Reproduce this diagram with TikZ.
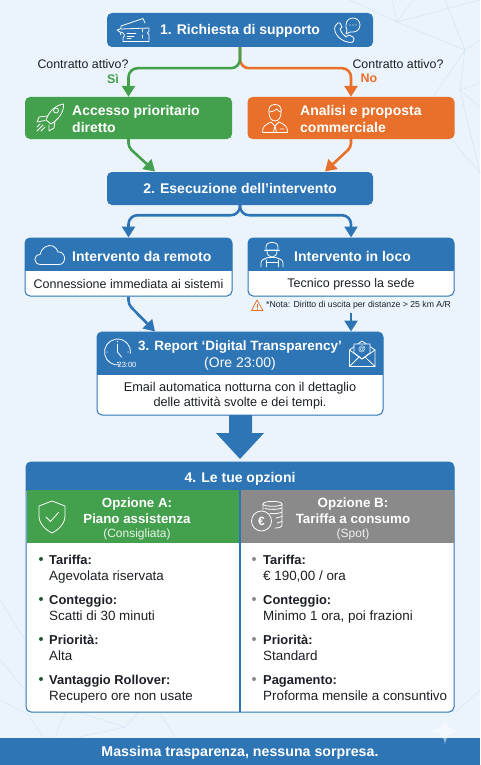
\documentclass[tikz,border=0pt]{standalone}
\usepackage{fontspec}
\setmainfont{Liberation Sans}
\usetikzlibrary{arrows.meta,positioning,calc}
\definecolor{PageBlue}{RGB}{235,244,251}
\definecolor{LineBlue}{RGB}{212,229,243}
\definecolor{MainBlue}{RGB}{46,117,182}
\definecolor{MainGreen}{RGB}{67,160,77}
\definecolor{MainOrange}{RGB}{232,112,42}
\definecolor{MainGray}{RGB}{138,138,138}
\definecolor{TextDark}{RGB}{28,32,38}
\tikzset{
  bgline/.style={draw=LineBlue,line width=0.5pt},
  stepbox/.style={fill=MainBlue,rounded corners=5pt,minimum width=266pt,minimum height=34pt,
    text=white,font=\fontsize{14}{17}\selectfont\bfseries,inner sep=0pt,text height=10pt,text depth=0pt},
  choicebox/.style={rounded corners=5pt,minimum width=207pt,minimum height=42pt,inner sep=0pt},
  cardbox/.style={draw=MainBlue,line width=1pt,fill=white,rounded corners=5pt,inner sep=0pt},
  headtext/.style={text=white,font=\fontsize{14}{17}\selectfont\bfseries,inner sep=0pt,align=left},
  bodytext/.style={text=TextDark,font=\fontsize{12.5}{15}\selectfont,inner sep=0pt,align=center},
  asktext/.style={text=TextDark,font=\fontsize{12.4}{14}\selectfont,inner sep=0pt},
  itemtext/.style={anchor=west,text=TextDark,font=\fontsize{13.4}{16}\selectfont,inner sep=0pt,align=left,
    text height=22pt,text depth=4pt},
  bullet/.style={circle,inner sep=0pt,minimum size=4pt},
  icon/.style={draw=white,line width=0.8pt,line join=round,line cap=round},
  greenarrow/.style={draw=MainGreen,line width=2.6pt,-{Triangle[width=13pt,length=11pt]}},
  orangearrow/.style={draw=MainOrange,line width=2.6pt,-{Triangle[width=13pt,length=11pt]}},
  bluearrow/.style={draw=MainBlue,line width=2.6pt,-{Triangle[width=13pt,length=11pt]}}
}
\newcommand{\itemhead}[1]{{\fontsize{12.9}{16}\selectfont\bfseries #1}}
\newcommand{\headband}[5]{% x1,y1,x2,y2,colour
  \begin{scope}
    \clip (#1,#2) rectangle (#3,#4);
    \fill[#5,rounded corners=5pt] (#1,#2) rectangle (#3,#4+10);
  \end{scope}}
\begin{document}
\begin{tikzpicture}[x=1pt,y=-1pt]
  \useasboundingbox (0,0) rectangle (480,765);
  \fill[PageBlue] (0,0) rectangle (480,765);
  % background lines
  \draw[bgline] (350,0) -- (397,22) -- (465,50) -- (445,0);
  \draw[bgline] (392,0) -- (397,22) -- (413,0);
  \draw[bgline] (397,22) -- (480,0);
  \draw[bgline] (433,97) -- (465,50) -- (480,40);
  \draw[bgline] (465,50) -- (460,90) -- (480,83);
  \draw[bgline] (480,107) -- (460,90) -- (480,173);
  \draw[bgline] (452,140) -- (480,173);
  \draw[bgline] (0,600) -- (25,640);
  \draw[bgline] (0,660) -- (25,690);
  \draw[bgline] (0,700) -- (25,713);
  \draw[bgline] (27,713) -- (43,737);
  \draw[bgline] (65,713) -- (55,737);
  \draw[bgline] (80,713) -- (125,727) -- (138,713);
  \draw[bgline] (125,727) -- (80,737);
  \draw[bgline] (160,713) -- (175,737);
  \draw[bgline] (456,712) -- (480,690);

  % main steps
  \node[stepbox] (req) at (240,30) {1. Richiesta di supporto};
  \node[choicebox,fill=MainGreen] (acc) at (128.5,118) {};
  \node[choicebox,fill=MainOrange] (ana) at (351,118) {};
  \node[stepbox,minimum height=33pt] (exe) at (240,188.5) {2. Esecuzione dell'intervento};
  \node[headtext,anchor=west] (acctxt) at (72,118.5) {Accesso prioritario\\diretto};
  \node[headtext,anchor=west] (anatxt) at (300,118.5) {Analisi e proposta\\commerciale};
  \node[asktext] (askl) at (83,64) {Contratto attivo?};
  \node[asktext] (askr) at (398,64) {Contratto attivo?};
  \node[text=MainGreen,font=\fontsize{12.5}{14}\selectfont\bfseries,inner sep=0pt] (si) at (113,78.5) {Sì};
  \node[text=MainOrange,font=\fontsize{12.5}{14}\selectfont\bfseries,inner sep=0pt] (no) at (369,78.5) {No};

  % remote and on-site cards
  \node[cardbox,minimum width=207pt,minimum height=58pt] (rem) at (128.5,267) {};
  \headband{25}{238}{232}{270}{MainBlue}
  \node[cardbox,minimum width=206pt,minimum height=58pt] (loc) at (351,267) {};
  \headband{248}{238}{454}{270}{MainBlue}
  \node[headtext,anchor=west] (remtxt) at (72,256) {Intervento da remoto};
  \node[headtext,anchor=west] (loctxt) at (294,256) {Intervento in loco};
  \node[bodytext] (rembody) at (128.5,284) {Connessione immediata ai sistemi};
  \node[bodytext] (locbody) at (351,284) {Tecnico presso la sede};
  \node[anchor=west,text=TextDark,font=\fontsize{8.7}{10}\selectfont,inner sep=0pt] (note) at (266,305.5) {*Nota: Diritto di uscita per distanze > 25 km A/R};
  \coordinate (notebot) at (351,313);
  \draw[MainOrange,line width=0.8pt,line join=round] (257,300) -- (263,310.5) -- (251.5,310.5) -- cycle;
  \draw[MainOrange,line width=0.8pt] (257,303.5) -- (257,307.5) (257,308.6) -- (257,309.3);

  % report card
  \node[cardbox,minimum width=286pt,minimum height=83pt] (rep) at (240,373.5) {};
  \headband{97}{332}{383}{374}{MainBlue}
  \node[headtext,font=\fontsize{13.5}{17}\selectfont\bfseries] (reptxt) at (240,347.5) {3. Report ‘Digital Transparency’};
  \node[text=white,font=\fontsize{14}{16}\selectfont,inner sep=0pt] (reptime) at (240,363.5) {(Ore 23:00)};
  \node[bodytext,font=\fontsize{12.7}{15}\selectfont] (repbody) at (240,396) {Email automatica notturna con il dettaglio\\delle attività svolte e dei tempi.};

  % options panel
  \node[cardbox,minimum width=428pt,minimum height=250pt] (opt) at (240,587) {};
  \headband{26}{462}{454}{490}{MainBlue}
  \fill[MainGreen] (26.5,490) rectangle (240,543);
  \fill[MainGray] (240,490) rectangle (453.5,543);
  \draw[MainBlue,line width=1.2pt] (240,490) -- (240,712);
  \node[headtext] (opttxt) at (240,478.5) {4. Le tue opzioni};
  \node[headtext,align=center,font=\fontsize{13.3}{16}\selectfont\bfseries] (opta) at (137,511) {Opzione A:\\Piano assistenza};
  \node[text=white!88!MainGreen,font=\fontsize{12}{13}\selectfont,inner sep=0pt] (optas) at (137,534.5) {(Consigliata)};
  \node[headtext,align=center,font=\fontsize{13.4}{16}\selectfont\bfseries] (optb) at (353,511) {Opzione B:\\Tariffa a consumo};
  \node[text=white!88!MainGray,font=\fontsize{12}{13}\selectfont,inner sep=0pt] (optbs) at (353,534.5) {(Spot)};

  \node[itemtext] (a1) at (49,571) {\itemhead{Tariffa:}\\Agevolata riservata};
  \node[itemtext] (a2) at (49,611) {\itemhead{Conteggio:}\\Scatti di 30 minuti};
  \node[itemtext] (a3) at (49,651) {\itemhead{Priorità:}\\Alta};
  \node[itemtext] (a4) at (49,691) {\itemhead{Vantaggio Rollover:}\\Recupero ore non usate};
  \node[itemtext] (b1) at (263,571) {\itemhead{Tariffa:}\\€ 190,00 / ora};
  \node[itemtext] (b2) at (263,611) {\itemhead{Conteggio:}\\Minimo 1 ora, poi frazioni};
  \node[itemtext] (b3) at (263,651) {\itemhead{Priorità:}\\Standard};
  \node[itemtext] (b4) at (263,691) {\itemhead{Pagamento:}\\Proforma mensile a consuntivo};
  \foreach \y in {559,599,639,679} {
    \node[bullet,fill=MainGreen!55!black] at (41,\y) {};
    \node[bullet,fill=MainGray] at (254,\y) {};
  }

  % footer
  \fill[MainBlue] (0,738) rectangle (480,765);
  \node[text=white,font=\fontsize{14.2}{16}\selectfont\bfseries,inner sep=0pt] (foot) at (240,752.5) {Massima trasparenza, nessuna sorpresa.};
  \fill[white,opacity=0.5] (445,717) .. controls (446,726) and (449,729) .. (460,731) .. controls (449,733) and (446,736) .. (445,745) .. controls (444,736) and (441,733) .. (430,731) .. controls (441,729) and (444,726) .. (445,717) -- cycle;

  % connectors
  \draw[orangearrow,rounded corners=9pt] (req.south) -- ++(0,21) -| (ana.north);
  \draw[greenarrow,rounded corners=9pt] (req.south) -- ++(0,21) -| (acc.north);
  \coordinate (acctip) at (155,171.5);
  \coordinate (anatip) at (325,171.5);
  \draw[greenarrow,rounded corners=4pt] (acc.south) -- ++(0,8) -- (acctip);
  \draw[orangearrow,rounded corners=4pt] (ana.south) -- ++(0,8) -- (anatip);
  \draw[bluearrow,rounded corners=9pt] (exe.south) -- ++(0,10) -| (rem.north);
  \draw[bluearrow,rounded corners=9pt] (exe.south) -- ++(0,10) -| (loc.north);
  \coordinate (reptip) at (155,331.5);
  \coordinate (reploc) at (351,331.5);
  \draw[bluearrow,rounded corners=4pt] (rem.south) -- ++(0,8) -- (reptip);
  \draw[bluearrow] (notebot) -- (reploc);
  \fill[MainBlue] (229,415) -- (252,415) -- (252,433) -- (264,433) -- (240,459) -- (216,433) -- (229,433) -- cycle;

  % icons
  \begin{scope}[shift={(117,18)}]% tickets
    \draw[icon] (4,8) -- (26,0.5) -- (28,5) (4,8) .. controls (5,10) and (4,11) .. (0,12) .. controls (3,13) and (4,15) .. (4,17);
    \draw[icon] (4,11) -- (32,10) -- (32,13) .. controls (30,14) and (30,16) .. (32,17) -- (32,23.5) -- (6,23.5) -- (6,20) .. controls (8,18) and (8,15) .. (4,14);
    \draw[icon] (10,15) -- (19,15) (10,18) -- (17,18) (10,20.5) -- (14,20.5);
    \draw[icon,dashed,line width=0.6pt] (25,11) -- (25,23);
  \end{scope}
  \begin{scope}[shift={(333,17)}]% phone and bubble
    \draw[icon] (3,8) .. controls (-1,12) and (4,24) .. (17,25.5) .. controls (21,26) and (22,22) .. (20,20) -- (16,18) -- (13,20) .. controls (10,18) and (8,15) .. (7,12) -- (9,10) -- (7,6) .. controls (6,5) and (4,6) .. (3,8) -- cycle;
    \draw[icon] (13,8) .. controls (13,3) and (17,1) .. (20,1) .. controls (24,1) and (27,4) .. (27,8) .. controls (27,12) and (24,15) .. (20,15) -- (17,15) -- (13,17) -- (14,13) .. controls (13,12) and (13,10) .. (13,8) -- cycle;
    \fill[white] (17,8) circle (0.7pt) (20,8) circle (0.7pt) (23,8) circle (0.7pt);
  \end{scope}
  \begin{scope}[shift={(36,103)}]% rocket
    \draw[icon] (10,17) .. controls (13,8) and (20,2) .. (27.5,1) .. controls (28,9) and (23,16) .. (15,21) -- cycle;
    \draw[icon] (20,7.5) circle (2.5pt);
    \draw[icon] (11,13) -- (3,14) -- (1,19) -- (9,17.5);
    \draw[icon] (19,18) -- (18,25) -- (13,28) -- (13,22);
    \draw[icon] (7,22) -- (1,28) (9,24) -- (5,28) (4,21) -- (1,24);
  \end{scope}
  \begin{scope}[shift={(262,104)}]% person
    \draw[icon] (13,0.5) .. controls (8,0.5) and (6,4) .. (7,9) .. controls (7,14) and (10,17) .. (13,17) .. controls (16,17) and (19,14) .. (19,9) .. controls (20,4) and (18,0.5) .. (13,0.5) -- cycle;
    \draw[icon] (7,8) .. controls (10,8) and (14,6) .. (15,5) .. controls (16,7) and (18,8) .. (19,8);
    \draw[icon] (0.5,28.5) .. controls (0.5,22) and (3,21) .. (9,18) -- (13,22) -- (17,18) .. controls (23,21) and (25.5,22) .. (25.5,28.5) -- cycle;
    \draw[icon] (13,22) -- (11.5,28) (13,22) -- (14.5,28) (18,25) -- (22,25);
  \end{scope}
  \begin{scope}[shift={(34,245)}]% cloud
    \draw[icon] (7,19.5) .. controls (-1,19.5) and (-1,10) .. (6,9.5) .. controls (7,3) and (14,-1) .. (19,1) .. controls (22,2) and (23,5) .. (24,7) .. controls (32,6) and (33,19.5) .. (25,19.5) -- cycle;
  \end{scope}
  \begin{scope}[shift={(260,242)}]% worker
    \draw[icon] (6,8) .. controls (5,2) and (8,0.5) .. (12,0.5) .. controls (16,0.5) and (19,2) .. (18,8) -- cycle;
    \draw[icon] (4.5,8) -- (19.5,8);
    \draw[icon] (7,9) .. controls (7,13) and (9,15) .. (12,15) .. controls (15,15) and (17,13) .. (17,9);
    \draw[icon] (1,25) -- (1,21) .. controls (1,18) and (4,17) .. (8,15.5) -- (16,15.5) .. controls (20,17) and (23,18) .. (23,21) -- (23,25);
    \draw[icon] (6,25) -- (6,18) (18,25) -- (18,18) (6,20) -- (18,20);
  \end{scope}
  \begin{scope}[shift={(117.5,352)}]% clock
    \draw[icon] (2.3,12.8) arc[start angle=-80,end angle=-365,radius=13pt];
    \draw[icon] (0,-8) -- (0,0) -- (4,5);
    \foreach \a in {0,90,180,270} {\fill[white] (\a:10.5) circle (0.6pt);}
  \end{scope}
  \node[text=white,font=\fontsize{7.5}{8}\selectfont,inner sep=0pt] (clocktime) at (127,364.5) {23:00};
  \begin{scope}[shift={(349,340)}]% envelope
    \draw[icon] (0.5,10) -- (13,1) -- (26,10) -- (26,26.5) -- (0.5,26.5) -- cycle;
    \draw[icon,fill=MainBlue] (5,13) -- (5,4) -- (21,4) -- (21,13) -- (13,19) -- cycle;
    \draw[icon] (0.5,10) -- (13,19) -- (26,10) (0.5,26.5) -- (10,17) (26,26.5) -- (16,17);
    \node[text=white,font=\fontsize{7.5}{8}\selectfont\bfseries,inner sep=0pt] (envat) at (13,9.5) {@};
  \end{scope}
  \begin{scope}[shift={(38,500)}]% shield
    \draw[icon] (14,1) -- (27,6) -- (27,16) .. controls (27,24) and (20,30) .. (14,33) .. controls (8,30) and (1,24) .. (1,16) -- (1,6) -- cycle;
    \draw[icon] (8,17) -- (12.5,21.5) -- (20.5,12.5);
  \end{scope}
  \begin{scope}[shift={(251,501)}]% coins
    \draw[icon] (12,3) .. controls (12,-0.5) and (31,-0.5) .. (31,3) .. controls (31,6) and (12,6) .. (12,3) -- cycle;
    \draw[icon] (12,3) -- (12,9) (31,3) -- (31,24) .. controls (31,26) and (28,27) .. (24,27);
    \draw[icon] (14,7.5) .. controls (20,9) and (27,8.5) .. (31,7) (19,12.5) .. controls (24,13) and (28,12.5) .. (31,11);
    \draw[icon] (25,17) -- (31,15.5) (26,22) -- (31,20.5);
    \draw[icon] (10.5,20) circle (10pt);
    \node[text=white,font=\fontsize{12}{14}\selectfont\bfseries,inner sep=0pt] (coineur) at (10.5,20) {€};
  \end{scope}
\end{tikzpicture}
\end{document}
